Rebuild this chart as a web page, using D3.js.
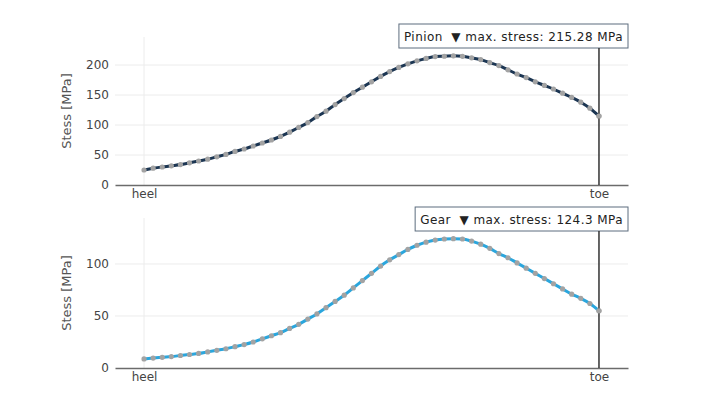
<!DOCTYPE html>
<meta charset="utf-8">
<script src="https://d3js.org/d3.v7.min.js"></script>
<style>
  body { margin: 0; background: #fff; }
  text { font-family: "DejaVu Sans", Verdana, sans-serif; }
</style>
<div id="my_dataviz"></div>
<script>
  // stress along the tooth, heel -> toe
  var pinion = [25, 28, 30, 32, 34, 37, 40, 43, 47, 51,
    56, 60, 65, 70, 75, 81, 88, 96, 104, 114,
    123, 134, 144, 154, 163, 172, 181, 189, 196, 202,
    207, 211, 214, 214.6, 215.28, 214.5, 212, 209, 204, 199,
    192, 185, 179, 172, 166, 160, 153, 146, 138, 128, 115];
  var gear = [8.7, 9.5, 10.3, 11, 12, 13, 14, 15.5, 17, 18.5,
    20.5, 22.5, 25, 28, 31, 34, 38, 42, 47, 52,
    58, 64, 70, 77, 84, 91, 98, 104, 109, 114,
    118, 121, 123, 124, 124.3, 124, 122, 119, 115, 110,
    106, 101, 96, 91, 86, 81, 76, 71, 67, 62, 55];
  var xTickPos = [0, 50];
  var xTickLabels = ["heel", "toe"];
  var pinionTicks = [0, 50, 100, 150, 200];
  var gearTicks = [0, 50, 100];

  var W = 713, H = 401;
  var svg = d3.select("#my_dataviz").append("svg")
    .attr("width", W).attr("height", H);

  var x = d3.scaleLinear().domain([-3.19, 53.19]).range([115, 628]);

  function panel(values, yDomain, top, bottom, ticks, lineColor, name, label, boxTop) {
    var y = d3.scaleLinear().domain(yDomain).range([bottom, top]);
    var g = svg.append("g");

    // horizontal grid
    g.selectAll(".hg").data(ticks.slice(1)).enter().append("line")
      .attr("x1", x.range()[0]).attr("x2", x.range()[1])
      .attr("y1", function(d) { return y(d); }).attr("y2", function(d) { return y(d); })
      .attr("stroke", "#ececec").attr("stroke-width", 1);
    // vertical grid at heel
    g.append("line")
      .attr("x1", x(0)).attr("x2", x(0)).attr("y1", top).attr("y2", bottom)
      .attr("stroke", "#ececec").attr("stroke-width", 1);

    // y axis labels
    var ya = g.append("g").attr("transform", "translate(" + (x.range()[0] - 2) + ",0)")
      .call(d3.axisLeft(y).tickValues(ticks).tickSize(0).tickPadding(4));
    ya.select(".domain").remove();
    ya.selectAll("text").attr("font-size", "12px").attr("fill", "#444")
      .attr("font-family", "DejaVu Sans, Verdana, sans-serif");

    // x axis
    var xa = g.append("g").attr("transform", "translate(0," + bottom + ")")
      .call(d3.axisBottom(x).tickValues(xTickPos)
        .tickFormat(function(d, i) { return xTickLabels[i]; })
        .tickSize(0).tickPadding(4));
    xa.select(".domain").attr("stroke", "#6b6b6b").attr("stroke-width", 1.5);
    xa.selectAll("text").attr("font-size", "12px").attr("fill", "#444")
      .attr("font-family", "DejaVu Sans, Verdana, sans-serif");

    // y title
    g.append("text")
      .attr("transform", "translate(71," + ((top + bottom) / 2) + ") rotate(-90)")
      .attr("text-anchor", "middle")
      .attr("font-size", "13px").attr("fill", "#555")
      .text(label);

    // line + markers
    var line = d3.line().curve(d3.curveMonotoneX)
      .x(function(d, i) { return x(i); })
      .y(function(d) { return y(d); });
    g.append("path").datum(values)
      .attr("fill", "none").attr("stroke", lineColor).attr("stroke-width", 3)
      .attr("d", line);
    g.selectAll(".pt").data(values).enter().append("circle")
      .attr("cx", function(d, i) { return x(i); })
      .attr("cy", function(d) { return y(d); })
      .attr("r", 2.6).attr("fill", "#a3a3a3");

    // max annotation
    var maxV = d3.max(values);
    var txt = name + "  \u25BC max. stress: " + maxV + " MPa";
    var boxH = 24;
    var rect = g.append("rect");
    var t = g.append("text")
      .attr("font-size", "12px").attr("fill", "#222")
      .attr("letter-spacing", "0.45px")
      .attr("xml:space", "preserve").style("white-space", "pre")
      .text(txt);
    var tw = t.node().getComputedTextLength();
    var boxRight = 628;
    var bl = boxRight - tw - 10;
    rect.attr("x", bl).attr("y", boxTop).attr("width", tw + 10).attr("height", boxH)
      .attr("fill", "#fff").attr("stroke", "#5d6d7e").attr("stroke-width", 1);
    t.attr("x", bl + 5).attr("y", boxTop + 16.5);

    // vertical marker at toe
    var last = values.length - 1;
    g.append("line")
      .attr("x1", x(last)).attr("x2", x(last))
      .attr("y1", boxTop + boxH).attr("y2", bottom)
      .attr("stroke", "#333").attr("stroke-width", 1.5);
    g.append("circle")
      .attr("cx", x(last)).attr("cy", y(values[last]))
      .attr("r", 2.6).attr("fill", "#a3a3a3");
  }

  panel(pinion, [0, 246.7], 37, 185, pinionTicks, "#1b3552", "Pinion", "Stess [MPa]", 24);
  panel(gear, [0, 144.2], 218, 368, gearTicks, "#2aa6dd", "Gear", "Stess [MPa]", 207);
</script>
